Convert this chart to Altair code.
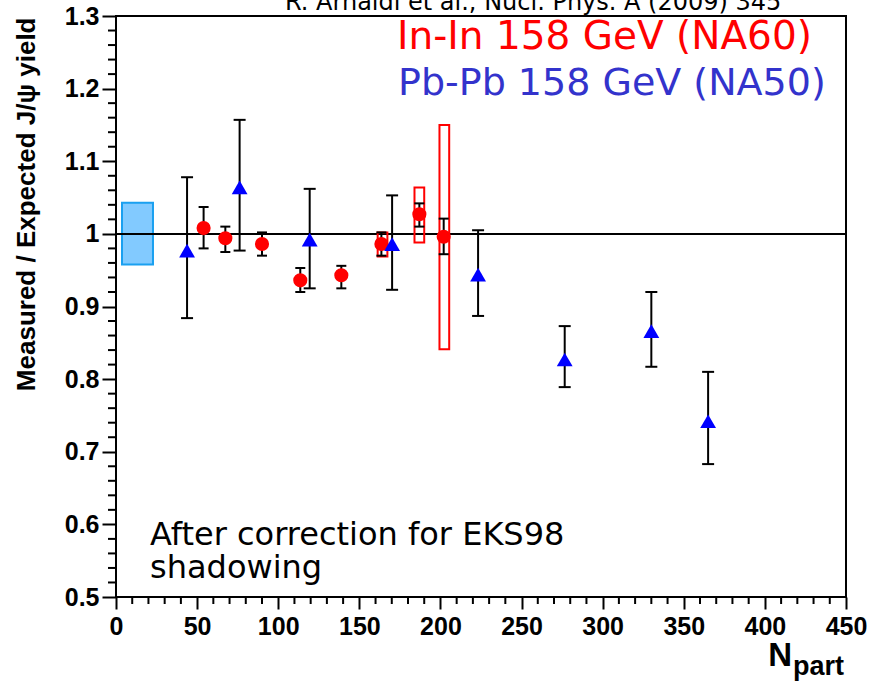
import altair as alt
import pandas as pd

# ---------------- data ----------------
inin_npart = [54.0, 67.4, 90.0, 113.6, 138.9, 163.6, 187.0, 202.0]
inin_y = [1.008, 0.994, 0.986, 0.936, 0.943, 0.986, 1.027, 0.996]
inin_lo = [0.980, 0.975, 0.970, 0.920, 0.925, 0.970, 1.010, 0.972]
inin_hi = [1.037, 1.010, 1.002, 0.953, 0.956, 1.002, 1.042, 1.021]

inin_sys_npart = [164.3, 187.0, 202.4]
inin_sys_lo = [0.969, 0.988, 0.841]
inin_sys_hi = [1.002, 1.064, 1.150]

pbpb_npart = [43.8, 76.2, 119.4, 170.2, 223.2, 276.6, 330.0, 365.0]
pbpb_y = [0.977, 1.064, 0.992, 0.986, 0.944, 0.827, 0.866, 0.742]
pbpb_lo = [0.884, 0.977, 0.925, 0.923, 0.887, 0.789, 0.817, 0.683]
pbpb_hi = [1.078, 1.157, 1.062, 1.053, 1.005, 0.873, 0.920, 0.810]

norm_x = [3.7, 22.8]
norm_y = [0.958, 1.043]

x_major = [0, 50, 100, 150, 200, 250, 300, 350, 400, 450]
y_major = [0.5, 0.6, 0.7, 0.8, 0.9, 1.0, 1.1, 1.2, 1.3]
x_minor = [v for v in range(0, 451, 10) if v % 50 != 0]
y_minor = [round(0.5 + 0.02 * i, 2) for i in range(41) if i % 5 != 0]

# ---------------- layout ----------------
W, H = 730, 581
SYS_HALF = 3.0

xs = alt.Scale(domain=[0, 450], nice=False, zero=False)
ys = alt.Scale(domain=[0.5, 1.3], nice=False, zero=False)

inin = pd.DataFrame({"n": inin_npart, "y": inin_y, "lo": inin_lo, "hi": inin_hi})
pbpb = pd.DataFrame({"n": pbpb_npart, "y": pbpb_y, "lo": pbpb_lo, "hi": pbpb_hi})
sys = pd.DataFrame({"n": inin_sys_npart, "lo": inin_sys_lo, "hi": inin_sys_hi})
sys["x1"] = sys["n"] - SYS_HALF
sys["x2"] = sys["n"] + SYS_HALF
norm = pd.DataFrame({"x1": [norm_x[0]], "x2": [norm_x[1]], "y1": [norm_y[0]], "y2": [norm_y[1]]})
one = pd.DataFrame({"a": [0]})

AXF = "Liberation Sans"
TXF = "DejaVu Sans"

x_axis = alt.Axis(values=x_major, title=None, labelFont=AXF, labelFontWeight="bold",
                  labelFontSize=25, labelColor="black", tickSize=12, tickWidth=2,
                  tickColor="black", labelPadding=5, domain=False, grid=False,
                  labelFlush=False, labelOverlap=False)
y_axis = alt.Axis(values=y_major, title="Measured / Expected J/ψ yield",
                  labelExpr="datum.value == 1 ? '1' : format(datum.value, '.1f')",
                  labelFont=AXF, labelFontWeight="bold", labelFontSize=25, labelColor="black",
                  tickSize=14, tickWidth=2, tickColor="black", labelPadding=3,
                  domain=False, grid=False, labelFlush=False, labelOverlap=False,
                  titleFont=AXF, titleFontWeight="bold", titleFontSize=26, titleColor="black",
                  titleAngle=-90, titleAlign="right", titleBaseline="middle",
                  titleX=-90, titleY=1)


def X(f):
    return alt.X(f, scale=xs, axis=x_axis)


def Y(f):
    return alt.Y(f, scale=ys, axis=y_axis)


# normalisation box
norm_box = alt.Chart(norm).mark_rect(fill="#82caff", stroke="#1aa0f0", strokeWidth=2).encode(
    x=X("x1:Q"), x2="x2:Q", y=Y("y1:Q"), y2="y2:Q",
)

hline = alt.Chart(one).mark_rule(color="black", strokeWidth=2).encode(
    y=Y("v:Q"), x=alt.value(0), x2=alt.value(W)
).transform_calculate(v="1")

sys_boxes = alt.Chart(sys).mark_rect(fill="white", fillOpacity=0, stroke="#ff0000", strokeWidth=2).encode(
    x=X("x1:Q"), x2="x2:Q", y=Y("lo:Q"), y2="hi:Q",
)


def errbars(df, cap):
    stem = alt.Chart(df).mark_rule(color="black", strokeWidth=2).encode(
        x=X("n:Q"), y=Y("lo:Q"), y2="hi:Q")
    cap_lo = alt.Chart(df).mark_rule(color="black", strokeWidth=2, xOffset=-cap, x2Offset=cap).encode(
        x=X("n:Q"), x2="n:Q", y=Y("lo:Q"))
    cap_hi = alt.Chart(df).mark_rule(color="black", strokeWidth=2, xOffset=-cap, x2Offset=cap).encode(
        x=X("n:Q"), x2="n:Q", y=Y("hi:Q"))
    return stem + cap_lo + cap_hi


inin_err = errbars(inin, 5)
pbpb_err = errbars(pbpb, 6)

inin_pts = alt.Chart(inin).mark_point(shape="circle", filled=True, color="#ff0000", size=200, opacity=1).encode(
    x=X("n:Q"), y=Y("y:Q"))
pbpb_pts = alt.Chart(pbpb).mark_point(shape="triangle-up", filled=True, color="#0000ff", size=250, opacity=1).encode(
    x=X("n:Q"), y=Y("y:Q"))

# minor ticks
xminor = alt.Chart(pd.DataFrame({"v": x_minor})).mark_rule(color="black", strokeWidth=2).encode(
    x=X("v:Q"), y=alt.value(H), y2=alt.value(H + 7))
yminor = alt.Chart(pd.DataFrame({"v": y_minor})).mark_rule(color="black", strokeWidth=2).encode(
    y=Y("v:Q"), x=alt.value(-8), x2=alt.value(0))


def label(text, x, y, size, color="black", font=TXF, weight="normal", align="left"):
    return alt.Chart(one).mark_text(font=font, fontSize=size, fontWeight=weight, color=color,
                                    align=align, baseline="alphabetic").encode(
        x=alt.value(x), y=alt.value(y), text=alt.value(text))


texts = (
    label("R. Arnaldi et al., Nucl. Phys. A (2009) 345", 169, -6, 24)
    + label("In-In 158 GeV (NA60)", 281, 33, 39, color="#ff0000")
    + label("Pb-Pb 158 GeV (NA50)", 282, 79, 38, color="#3333cc")
    + label("After correction for EKS98", 34, 529, 32)
    + label("shadowing", 34, 562, 32)
    + label("N", 676, 650, 33, font=AXF, weight="bold", align="right")
    + label("part", 677, 659, 27, font=AXF, weight="bold")
)

chart = alt.layer(
    norm_box, hline, sys_boxes, inin_err, pbpb_err, inin_pts, pbpb_pts, xminor, yminor, texts
).properties(
    width=W, height=H,
    autosize=alt.AutoSizeParams(type="none"),
    padding={"left": 116, "top": 16, "right": 37, "bottom": 84},
    background="white",
).configure_view(stroke="black", strokeWidth=2)

chart.save("out.html", embed_options={"renderer": "svg", "actions": False})
